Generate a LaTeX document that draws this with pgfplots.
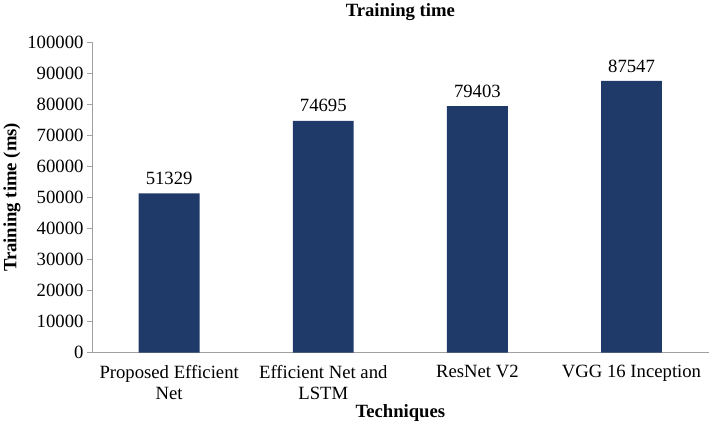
\documentclass[border=0pt]{standalone}
\usepackage{pgfplots}
\pgfplotsset{compat=1.18}
\usepackage{fontspec}
\setmainfont{Liberation Serif}
\definecolor{barblue}{RGB}{31,58,104}
\definecolor{axisgray}{RGB}{160,160,160}
\begin{document}
\begin{tikzpicture}
\begin{axis}[
  scale only axis, width=608bp, height=306bp,
  font=\fontsize{18.5}{21}\selectfont,
  ybar, bar width=60bp,
  xmin=-0.5, xmax=3.5, ymin=0, ymax=100000,
  xtick={0,1,2,3},
  xticklabels={Proposed Efficient\\Net, Efficient Net and\\LSTM, ResNet V2, VGG 16 Inception},
  xticklabel style={align=center, anchor=north, yshift=-4bp},
  ytick distance=10000,
  scaled y ticks=false,
  /pgf/number format/.cd, fixed, set thousands separator={}, assume math mode=true,
  /pgfplots/.cd,
  axis x line*=bottom, axis y line*=left,
  axis line style={axisgray, line width=0.8bp},
  x axis line style={-}, y axis line style={-},
  xtick style={draw=none},
  ytick style={axisgray, line width=0.8bp},
  tick align=outside, major tick length=5bp,
  title={\textbf{Training time}},
  title style={yshift=12bp},
  ylabel={\textbf{Training time (ms)}},
  xlabel={\textbf{Techniques}},
  xlabel style={yshift=2bp},
  ylabel style={yshift=0bp},
  nodes near coords,
  every node near coord/.append style={font=\fontsize{18.5}{21}\selectfont, yshift=5bp},
  enlarge x limits=false,
]
\addplot[fill=barblue, draw=none] coordinates {(0,51329) (1,74695) (2,79403) (3,87547)};
\end{axis}
\end{tikzpicture}
\end{document}
